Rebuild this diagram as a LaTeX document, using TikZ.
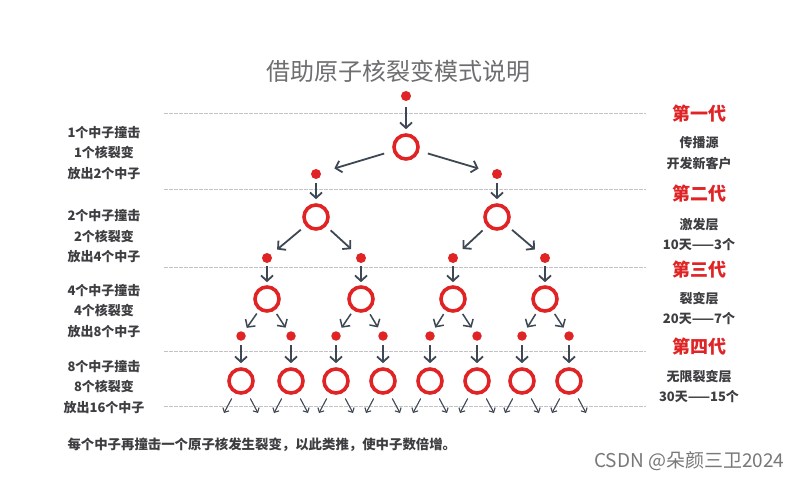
\documentclass[tikz,border=0pt]{standalone}
\usepackage{fontspec}
\setmainfont{Noto Sans CJK SC}
\usetikzlibrary{arrows.meta}
\definecolor{nred}{RGB}{224,36,38}
\definecolor{arr}{RGB}{62,72,84}
\definecolor{txt}{RGB}{62,62,66}
\definecolor{ttl}{RGB}{110,110,112}
\definecolor{rulec}{RGB}{195,195,198}
\definecolor{wm}{RGB}{120,120,120}
\begin{document}
\begin{tikzpicture}[x=1pt,y=-1pt,
  dotn/.style={circle,fill=nred,inner sep=0pt,minimum size=10pt},
  ring/.style={circle,draw=nred,line width=3.6pt,inner sep=0pt,minimum size=24pt},
  arrline/.style={draw=arr,line width=1.8pt,-{Straight Barb[length=5.5pt,width=12pt]}},
  smallarr/.style={draw=arr,line width=1.1pt,-{Straight Barb[length=3.5pt,width=7pt]}},
  rulel/.style={draw=rulec,line width=1pt,dash pattern=on 4pt off 1pt},
  lefttxt/.style={text=txt,align=center,font=\bfseries\fontsize{13}{20.5}\selectfont},
  gentxt/.style={text=nred,font=\bfseries\fontsize{18}{18}\selectfont},
  subtxt/.style={text=txt,align=center,font=\bfseries\fontsize{13}{20.5}\selectfont}]
\fill[white] (0,0) rectangle (800,481);
\useasboundingbox (0,0) rectangle (800,481);

% title
\node[text=ttl,font=\fontsize{24}{24}\selectfont] (title) at (398,71) {借助原子核裂变模式说明};

% rules
\foreach \y in {114,190,267,351,406}
  \draw[rulel] (164,\y) -- (646,\y);

% level 0
\node[dotn] (d0) at (406,96) {};
\node[ring] (r0) at (406,147) {};
% level 1
\foreach \x [count=\i] in {316,497} {
  \node[dotn] (d1\i) at (\x,174) {};
  \node[ring] (r1\i) at (\x,217) {};
}
% level 2
\foreach \x [count=\i] in {267,361,453,545} {
  \node[dotn] (d2\i) at (\x,258) {};
  \node[ring] (r2\i) at (\x,299) {};
}
% level 3
\foreach \x [count=\i] in {241,291,336,383,430,477,522,569} {
  \node[dotn,minimum size=9.5pt] (d3\i) at (\x,336) {};
  \node[ring] (r3\i) at (\x,381) {};
  \coordinate (eL\i) at (\x-17,413);
  \coordinate (eR\i) at (\x+17,413);
}

% vertical arrows dot -> ring
\draw[arrline,shorten <=6pt,shorten >=4pt] (d0) -- (r0);
\foreach \i in {1,2}
  \draw[arrline,shorten <=4pt,shorten >=4pt] (d1\i) -- (r1\i);
\foreach \i in {1,...,4}
  \draw[arrline,shorten <=3pt,shorten >=3pt] (d2\i) -- (r2\i);
\foreach \i in {1,...,8}
  \draw[arrline,shorten <=4pt,shorten >=4pt] (d3\i) -- (r3\i);

% ring -> next dots
\draw[arrline,shorten <=9pt,shorten >=14pt] (r0) -- (d11);
\draw[arrline,shorten <=9pt,shorten >=14pt] (r0) -- (d12);
\foreach \i in {1,2} {
  \pgfmathtruncatemacro{\a}{2*\i-1}
  \pgfmathtruncatemacro{\b}{2*\i}
  \draw[arrline,shorten <=6pt,shorten >=8pt] (r1\i) -- (d2\a);
  \draw[arrline,shorten <=6pt,shorten >=8pt] (r1\i) -- (d2\b);
}
\foreach \i in {1,...,4} {
  \pgfmathtruncatemacro{\a}{2*\i-1}
  \pgfmathtruncatemacro{\b}{2*\i}
  \draw[arrline,line width=1.5pt,shorten <=4pt,shorten >=5pt] (r2\i) -- (d3\a);
  \draw[arrline,line width=1.5pt,shorten <=4pt,shorten >=5pt] (r2\i) -- (d3\b);
}
\foreach \i in {1,...,8} {
  \draw[smallarr,shorten <=6pt] (r3\i) -- (eL\i);
  \draw[smallarr,shorten <=6pt] (r3\i) -- (eR\i);
}

% left texts
\node[lefttxt] (t1) at (104,153) {1个中子撞击\\1个核裂变\\放出2个中子};
\node[lefttxt] (t2) at (104,236.5) {2个中子撞击\\2个核裂变\\放出4个中子};
\node[lefttxt] (t3) at (104,311) {4个中子撞击\\4个核裂变\\放出8个中子};
\node[lefttxt] (t4) at (104,387) {8个中子撞击\\8个核裂变\\放出16个中子};

% right texts
\node[gentxt] (g1) at (699,114) {第一代};
\node[subtxt] (s1) at (699,153) {传播源\\开发新客户};
\node[gentxt] (g2) at (699,194) {第二代};
\node[subtxt] (s2) at (699,234.5) {激发层\\10天——3个};
\node[gentxt] (g3) at (699,270) {第三代};
\node[subtxt] (s3) at (699,308.5) {裂变层\\20天——7个};
\node[gentxt] (g4) at (699,347) {第四代};
\node[subtxt] (s4) at (699,386.5) {无限裂变层\\30天——15个};

% bottom note
\node[anchor=west,text=txt,font=\bfseries\fontsize{13.4}{13.4}\selectfont] (note) at (64,445) {每个中子再撞击一个原子核发生裂变，以此类推，使中子数倍增。};

% watermark
\node[anchor=east,text=wm,font=\fontsize{19}{19}\selectfont] (wmk) at (788,461) {CSDN @朵颜三卫2024};
\end{tikzpicture}
\end{document}
